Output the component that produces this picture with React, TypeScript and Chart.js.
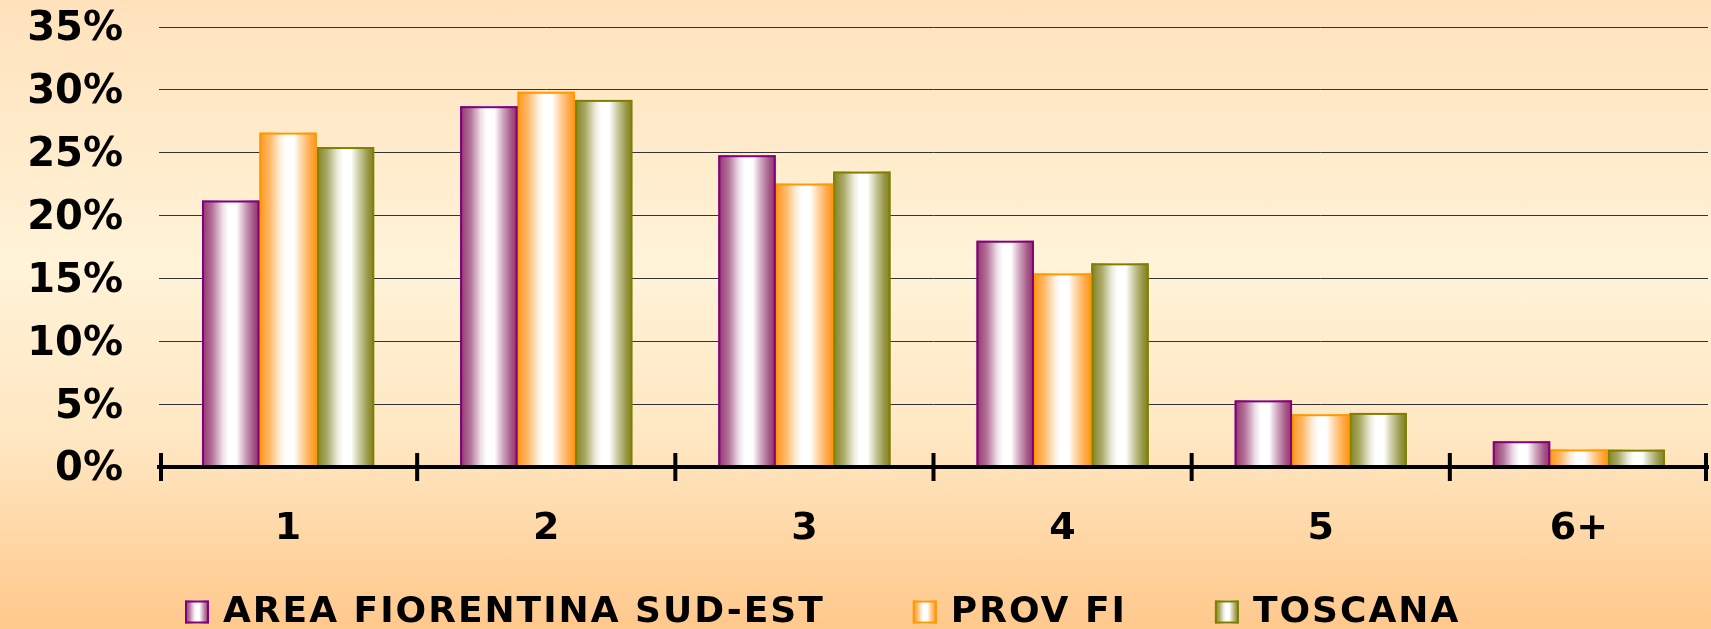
import React, { useEffect, useRef } from "react";
import { Chart, registerables } from "chart.js";

Chart.register(...registerables);

const categories = ["1", "2", "3", "4", "5", "6+"];
const seriesNames = ["AREA FIORENTINA SUD-EST", "PROV FI", "TOSCANA"];
const areaValues = [21.2, 28.7, 24.8, 18.0, 5.3, 2.05];
const provValues = [26.6, 29.85, 22.55, 15.4, 4.2, 1.4];
const toscanaValues = [25.45, 29.2, 23.5, 16.2, 4.3, 1.38];
const yTicks = [0, 5, 10, 15, 20, 25, 30, 35];

const edgeColors = [
  [140, 40, 100],
  [255, 145, 20],
  [122, 122, 20],
];
const borderColors = ["#800080", "#FF9900", "#808000"];

const FONT = "'DejaVu Sans', Verdana, sans-serif";

function mix(c: number[], t: number) {
  const r = Math.round(c[0] + (255 - c[0]) * t);
  const g = Math.round(c[1] + (255 - c[1]) * t);
  const b = Math.round(c[2] + (255 - c[2]) * t);
  return `rgb(${r},${g},${b})`;
}

function addStops(g: CanvasGradient, c: number[]) {
  g.addColorStop(0, mix(c, 0.05));
  g.addColorStop(0.18, mix(c, 0.35));
  g.addColorStop(0.36, mix(c, 0.85));
  g.addColorStop(0.46, mix(c, 1));
  g.addColorStop(0.6, mix(c, 1));
  g.addColorStop(0.74, mix(c, 0.6));
  g.addColorStop(0.9, mix(c, 0.2));
  g.addColorStop(1, mix(c, 0.05));
}

const gradientBars = {
  id: "gradientBars",
  beforeDatasetDraw(chart: any, args: any) {
    const ctx = chart.ctx;
    const i = args.index;
    ctx.save();
    for (const el of args.meta.data) {
      const { x, y, base, width } = el.getProps(["x", "y", "base", "width"], true);
      const left = x - width / 2;
      const g = ctx.createLinearGradient(left, 0, left + width, 0);
      addStops(g, edgeColors[i]);
      ctx.fillStyle = g;
      ctx.fillRect(left, y, width, base - y);
      ctx.strokeStyle = borderColors[i];
      ctx.lineWidth = 2;
      ctx.strokeRect(left + 1, y + 1, width - 2, base - y - 1);
    }
    ctx.restore();
    return false;
  },
};

const crossTicks = {
  id: "crossTicks",
  afterDraw(chart: any) {
    const xs = chart.scales.x;
    const ctx = chart.ctx;
    const n = chart.data.labels.length;
    const step = xs.width / n;
    const y0 = xs.top;
    ctx.save();
    ctx.strokeStyle = "#000";
    ctx.lineWidth = 4;
    ctx.beginPath();
    ctx.moveTo(xs.left, y0);
    ctx.lineTo(xs.right, y0);
    for (let k = 0; k <= n; k++) {
      const x = Math.min(Math.max(xs.left + k * step, xs.left + 2), xs.right - 2);
      ctx.moveTo(x, y0 - 14);
      ctx.lineTo(x, y0 + 14);
    }
    ctx.stroke();
    ctx.restore();
  },
};

const LEGEND_START_X = 185;
const LEGEND_Y = 612;
const MARKER_W = 24;
const MARKER_H = 23;
const MARKER_TEXT_GAP = 38;
const ITEM_GAP = 88;

const customLegend = {
  id: "customLegend",
  afterDraw(chart: any) {
    const ctx = chart.ctx;
    ctx.save();
    ctx.font = `bold 36px ${FONT}`;
    (ctx as any).letterSpacing = "2px";
    ctx.textBaseline = "middle";
    ctx.textAlign = "left";
    let x = LEGEND_START_X;
    chart.data.datasets.forEach((ds: any, i: number) => {
      const top = LEGEND_Y - MARKER_H / 2;
      const g = ctx.createLinearGradient(x, 0, x + MARKER_W, 0);
      addStops(g, edgeColors[i]);
      ctx.fillStyle = g;
      ctx.fillRect(x, top, MARKER_W, MARKER_H);
      ctx.strokeStyle = borderColors[i];
      ctx.lineWidth = 2;
      ctx.strokeRect(x + 1, top + 1, MARKER_W - 2, MARKER_H - 2);
      const tx = x + MARKER_TEXT_GAP;
      ctx.fillStyle = "#000";
      ctx.fillText(ds.label, tx, LEGEND_Y + 1);
      x = tx + ctx.measureText(ds.label).width + ITEM_GAP;
    });
    ctx.restore();
  },
};

export default function App() {
  const ref = useRef<HTMLCanvasElement | null>(null);

  useEffect(() => {
    if (!ref.current) return;
    const values = [areaValues, provValues, toscanaValues];
    const chart = new Chart(ref.current, {
      type: "bar",
      data: {
        labels: categories,
        datasets: seriesNames.map((name, i) => ({
          label: name,
          data: values[i],
          backgroundColor: mix(edgeColors[i], 0.5),
          borderColor: borderColors[i],
          borderWidth: 2,
          categoryPercentage: 0.667,
          barPercentage: 1,
        })),
      },
      options: {
        animation: false,
        responsive: true,
        maintainAspectRatio: false,
        layout: { padding: { left: 0, right: 3, top: 27, bottom: 80 } },
        plugins: {
          tooltip: { enabled: false },
          legend: { display: false },
        },
        scales: {
          x: {
            grid: { display: false, drawTicks: false },
            border: { display: true, color: "#000", width: 4 },
            afterFit: (s: any) => {
              s.height = 82;
              s.paddingLeft = 0;
              s.paddingRight = 0;
            },
            ticks: {
              color: "#000",
              padding: 39,
              font: { family: FONT, size: 38, weight: "bold" },
            },
          },
          y: {
            min: 0,
            max: 35,
            afterFit: (s: any) => {
              s.width = 159;
              s.paddingTop = 0;
              s.paddingBottom = 0;
            },
            afterBuildTicks: (s: any) => {
              s.ticks = yTicks.map((v) => ({ value: v }));
            },
            grid: { color: "#333", lineWidth: 1, drawTicks: false },
            border: { display: false },
            ticks: {
              color: "#000",
              padding: 36,
              labelOffset: 3,
              font: { family: FONT, size: 40, weight: "bold" },
              callback: (v: any) => `${v}%`,
            },
          },
        },
      },
      plugins: [gradientBars, crossTicks, customLegend],
    });
    return () => chart.destroy();
  }, []);

  return (
    <div
      style={{
        position: "fixed",
        left: 0,
        top: 0,
        width: 1711,
        height: 629,
        background: "linear-gradient(to bottom, #FFE2BC 0%, #FFF3D8 42%, #FFE7C2 70%, #FFC88C 100%)",
      }}
    >
      <canvas ref={ref} />
    </div>
  );
}
